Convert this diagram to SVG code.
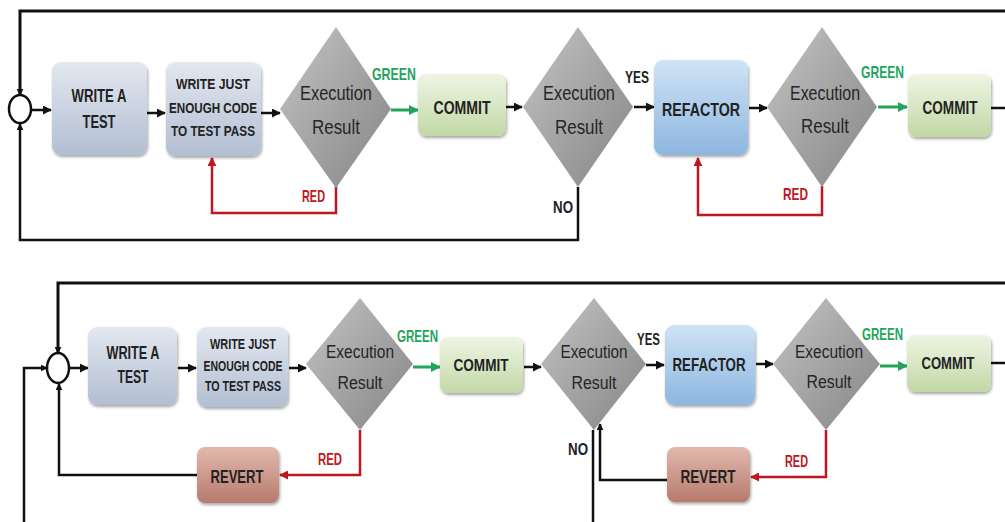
<svg xmlns="http://www.w3.org/2000/svg" width="1005" height="522" viewBox="0 0 1005 522">
<style>
.ln{fill:none;stroke:#111;stroke-width:2.5}
.lt{fill:none;stroke:#111;stroke-width:3}
.gr{fill:none;stroke:#22a55a;stroke-width:3}
.rd{fill:none;stroke:#c0161e;stroke-width:2.5}
.bx{fill:#222;font-family:"Liberation Sans",Arial,sans-serif;font-weight:bold;text-anchor:middle}
.dt{fill:#262626;font-family:"Liberation Sans",Arial,sans-serif;text-anchor:middle}
.lg{fill:#22a55a;font-family:"Liberation Sans",Arial,sans-serif;font-weight:bold}
.lr{fill:#c0161e;font-family:"Liberation Sans",Arial,sans-serif;font-weight:bold}
.lk{fill:#222;font-family:"Liberation Sans",Arial,sans-serif;font-weight:bold}
.wr{fill:url(#gWr)}
.cm{fill:url(#gCm)}
.rf{fill:url(#gRf)}
.rv{fill:url(#gRv)}
.dm{fill:url(#gDm)}
.bxs{filter:url(#sh)}
.cir{fill:#fff;stroke:#111;stroke-width:2.5}
</style>
<defs>
<linearGradient id="gWr" x1="0" y1="0" x2="0" y2="1"><stop offset="0" stop-color="#e3e8f0"/><stop offset="1" stop-color="#b2bed2"/></linearGradient>
<linearGradient id="gCm" x1="0" y1="0" x2="0" y2="1"><stop offset="0" stop-color="#eef5e3"/><stop offset="1" stop-color="#c2d8a6"/></linearGradient>
<linearGradient id="gRf" x1="0" y1="0" x2="0" y2="1"><stop offset="0" stop-color="#cfe3f5"/><stop offset="1" stop-color="#8db6e0"/></linearGradient>
<linearGradient id="gRv" x1="0" y1="0" x2="0" y2="1"><stop offset="0" stop-color="#e3b9ae"/><stop offset="1" stop-color="#b67a6c"/></linearGradient>
<linearGradient id="gDm" x1="0" y1="0" x2="1" y2="1"><stop offset="0" stop-color="#c4c4c4"/><stop offset="0.5" stop-color="#a4a4a4"/><stop offset="1" stop-color="#858585"/></linearGradient>
<filter id="sh" x="-10%" y="-10%" width="125%" height="130%"><feDropShadow dx="1" dy="2" stdDeviation="1.5" flood-color="#000" flood-opacity="0.35"/></filter>
<marker id="ak" viewBox="0 0 10 10" refX="9" refY="5" markerWidth="9" markerHeight="9" markerUnits="userSpaceOnUse" orient="auto"><path d="M0,0 L10,5 L0,10 z" fill="#111"/></marker>
<marker id="as" viewBox="0 0 10 10" refX="9" refY="5" markerWidth="7" markerHeight="7" markerUnits="userSpaceOnUse" orient="auto"><path d="M0,0 L10,5 L0,10 z" fill="#111"/></marker>
<marker id="ag" viewBox="0 0 10 10" refX="9" refY="5" markerWidth="10" markerHeight="10" markerUnits="userSpaceOnUse" orient="auto"><path d="M0,0 L10,5 L0,10 z" fill="#22a55a"/></marker>
<marker id="ar" viewBox="0 0 10 10" refX="9" refY="5" markerWidth="9" markerHeight="9" markerUnits="userSpaceOnUse" orient="auto"><path d="M0,0 L10,5 L0,10 z" fill="#c0161e"/></marker>
</defs>
<rect width="1005" height="522" fill="#fff"/>

<g id="connectors">
<path class="lt" d="M1005,11 H20 V95" marker-end="url(#as)"/>
<path class="ln" d="M578,187 V240 H20 V124" marker-end="url(#as)"/>
<path class="ln" d="M31,110 H51" marker-end="url(#ak)"/>
<path class="ln" d="M147,113 H165" marker-end="url(#ak)"/>
<path class="ln" d="M261,113 H280" marker-end="url(#ak)"/>
<path class="gr" d="M391,110 H418" marker-end="url(#ag)"/>
<path class="ln" d="M506,107 H522" marker-end="url(#ak)"/>
<path class="ln" d="M634,107 H654" marker-end="url(#ak)"/>
<path class="ln" d="M749,108 H767" marker-end="url(#ak)"/>
<path class="gr" d="M878,107 H907" marker-end="url(#ag)"/>
<path class="ln" d="M991,108 H1005"/>
<path class="rd" d="M336,186 V213 H212 V158" marker-end="url(#ar)"/>
<path class="rd" d="M822,186 V215 H698 V158" marker-end="url(#ar)"/>
<path class="lt" d="M1005,283 H58 V353" marker-end="url(#as)"/>
<path class="ln" d="M24,522 V368 H47" marker-end="url(#as)"/>
<path class="ln" d="M197,475 H59 V384" marker-end="url(#as)"/>
<path class="ln" d="M70,368 H88" marker-end="url(#ak)"/>
<path class="ln" d="M178,368 H196" marker-end="url(#ak)"/>
<path class="ln" d="M289,368 H306" marker-end="url(#ak)"/>
<path class="gr" d="M413,367 H440" marker-end="url(#ag)"/>
<path class="ln" d="M524,367 H541" marker-end="url(#ak)"/>
<path class="ln" d="M646,365 H664" marker-end="url(#ak)"/>
<path class="ln" d="M756,364 H773" marker-end="url(#ak)"/>
<path class="gr" d="M880,366 H907" marker-end="url(#ag)"/>
<path class="ln" d="M991,363 H1005"/>
<path class="rd" d="M360,430 V475 H280" marker-end="url(#ar)"/>
<path class="rd" d="M826,430 V477 H751" marker-end="url(#ar)"/>
<path class="ln" d="M667,480 H600 V424" marker-end="url(#as)"/>
<path class="ln" d="M593,430 V522"/>
<text class="lg" x="372" y="80" font-size="17" textLength="44" lengthAdjust="spacingAndGlyphs">GREEN</text>
<text class="lk" x="625" y="83" font-size="17" textLength="24" lengthAdjust="spacingAndGlyphs">YES</text>
<text class="lk" x="553" y="213" font-size="17" textLength="20" lengthAdjust="spacingAndGlyphs">NO</text>
<text class="lr" x="302" y="202" font-size="17" textLength="23" lengthAdjust="spacingAndGlyphs">RED</text>
<text class="lr" x="783" y="200" font-size="17" textLength="25" lengthAdjust="spacingAndGlyphs">RED</text>
<text class="lg" x="861" y="78" font-size="17" textLength="43" lengthAdjust="spacingAndGlyphs">GREEN</text>
<text class="lg" x="397" y="342" font-size="16" textLength="41" lengthAdjust="spacingAndGlyphs">GREEN</text>
<text class="lk" x="637" y="345" font-size="16" textLength="23" lengthAdjust="spacingAndGlyphs">YES</text>
<text class="lk" x="568" y="455" font-size="16" textLength="20" lengthAdjust="spacingAndGlyphs">NO</text>
<text class="lr" x="318" y="465" font-size="16" textLength="24" lengthAdjust="spacingAndGlyphs">RED</text>
<text class="lr" x="785" y="467" font-size="16" textLength="23" lengthAdjust="spacingAndGlyphs">RED</text>
<text class="lg" x="862" y="340" font-size="16" textLength="41" lengthAdjust="spacingAndGlyphs">GREEN</text>
</g>

<g id="merge1"><ellipse class="cir" cx="20" cy="109" rx="11" ry="14"/></g>
<g id="write-test-1"><rect class="wr bxs" x="52" y="62" width="95" height="93" rx="9"/>
<text class="bx" x="99" y="102" font-size="19" textLength="55" lengthAdjust="spacingAndGlyphs">WRITE A</text>
<text class="bx" x="99" y="128" font-size="19" textLength="33" lengthAdjust="spacingAndGlyphs">TEST</text></g>
<g id="write-code-1"><rect class="wr bxs" x="166" y="62" width="95" height="94" rx="9"/>
<text class="bx" x="213" y="89" font-size="15" textLength="74" lengthAdjust="spacingAndGlyphs">WRITE JUST</text>
<text class="bx" x="213" y="113" font-size="15" textLength="88" lengthAdjust="spacingAndGlyphs">ENOUGH CODE</text>
<text class="bx" x="213" y="136" font-size="15" textLength="84" lengthAdjust="spacingAndGlyphs">TO TEST PASS</text></g>
<g id="exec-1"><polygon class="dm" points="336,27 391,109 336,188 280,109"/>
<text class="dt" x="336" y="100" font-size="20" textLength="72" lengthAdjust="spacingAndGlyphs">Execution</text>
<text class="dt" x="336" y="134" font-size="20" textLength="48" lengthAdjust="spacingAndGlyphs">Result</text></g>
<g id="commit-1"><rect class="cm bxs" x="418" y="74" width="88" height="62" rx="8"/>
<text class="bx" x="462" y="114" font-size="19" textLength="57" lengthAdjust="spacingAndGlyphs">COMMIT</text></g>
<g id="exec-2"><polygon class="dm" points="578,27 633,107 578,187 523,107"/>
<text class="dt" x="579" y="100" font-size="20" textLength="72" lengthAdjust="spacingAndGlyphs">Execution</text>
<text class="dt" x="579" y="134" font-size="20" textLength="48" lengthAdjust="spacingAndGlyphs">Result</text></g>
<g id="refactor-1"><rect class="rf bxs" x="654" y="60" width="94" height="95" rx="9"/>
<text class="bx" x="701" y="116" font-size="19" textLength="78" lengthAdjust="spacingAndGlyphs">REFACTOR</text></g>
<g id="exec-3"><polygon class="dm" points="822,27 877,107 822,187 767,107"/>
<text class="dt" x="825" y="100" font-size="20" textLength="70" lengthAdjust="spacingAndGlyphs">Execution</text>
<text class="dt" x="825" y="133" font-size="20" textLength="48" lengthAdjust="spacingAndGlyphs">Result</text></g>
<g id="commit-2"><rect class="cm bxs" x="908" y="74" width="83" height="63" rx="8"/>
<text class="bx" x="950" y="114" font-size="19" textLength="55" lengthAdjust="spacingAndGlyphs">COMMIT</text></g>

<g id="merge2"><ellipse class="cir" cx="58" cy="368" rx="11" ry="15"/></g>
<g id="write-test-2"><rect class="wr bxs" x="88" y="327" width="89" height="78" rx="9"/>
<text class="bx" x="133" y="359" font-size="18" textLength="53" lengthAdjust="spacingAndGlyphs">WRITE A</text>
<text class="bx" x="133" y="383" font-size="18" textLength="31" lengthAdjust="spacingAndGlyphs">TEST</text></g>
<g id="write-code-2"><rect class="wr bxs" x="197" y="327" width="91" height="80" rx="9"/>
<text class="bx" x="243" y="349" font-size="14" textLength="66" lengthAdjust="spacingAndGlyphs">WRITE JUST</text>
<text class="bx" x="243" y="371" font-size="14" textLength="79" lengthAdjust="spacingAndGlyphs">ENOUGH CODE</text>
<text class="bx" x="243" y="391" font-size="14" textLength="76" lengthAdjust="spacingAndGlyphs">TO TEST PASS</text></g>
<g id="exec-4"><polygon class="dm" points="360,298 413,364 360,430 306,364"/>
<text class="dt" x="360" y="358" font-size="18" textLength="68" lengthAdjust="spacingAndGlyphs">Execution</text>
<text class="dt" x="360" y="389" font-size="18" textLength="45" lengthAdjust="spacingAndGlyphs">Result</text></g>
<g id="commit-3"><rect class="cm bxs" x="440" y="337" width="83" height="56" rx="8"/>
<text class="bx" x="481" y="371" font-size="17" textLength="55" lengthAdjust="spacingAndGlyphs">COMMIT</text></g>
<g id="exec-5"><polygon class="dm" points="594,298 646,364 594,430 541,364"/>
<text class="dt" x="594" y="358" font-size="18" textLength="67" lengthAdjust="spacingAndGlyphs">Execution</text>
<text class="dt" x="594" y="389" font-size="18" textLength="45" lengthAdjust="spacingAndGlyphs">Result</text></g>
<g id="refactor-2"><rect class="rf bxs" x="665" y="325" width="90" height="80" rx="9"/>
<text class="bx" x="709" y="371" font-size="18" textLength="73" lengthAdjust="spacingAndGlyphs">REFACTOR</text></g>
<g id="exec-6"><polygon class="dm" points="826,298 880,364 826,430 773,364"/>
<text class="dt" x="829" y="358" font-size="18" textLength="68" lengthAdjust="spacingAndGlyphs">Execution</text>
<text class="dt" x="829" y="388" font-size="18" textLength="45" lengthAdjust="spacingAndGlyphs">Result</text></g>
<g id="commit-4"><rect class="cm bxs" x="907" y="335" width="84" height="57" rx="8"/>
<text class="bx" x="948" y="369" font-size="17" textLength="53" lengthAdjust="spacingAndGlyphs">COMMIT</text></g>
<g id="revert-1"><rect class="rv bxs" x="197" y="447" width="82" height="56" rx="8"/>
<text class="bx" x="237" y="483" font-size="18" textLength="53" lengthAdjust="spacingAndGlyphs">REVERT</text></g>
<g id="revert-2"><rect class="rv bxs" x="667" y="447" width="83" height="55" rx="8"/>
<text class="bx" x="708" y="483" font-size="18" textLength="55" lengthAdjust="spacingAndGlyphs">REVERT</text></g>
</svg>
